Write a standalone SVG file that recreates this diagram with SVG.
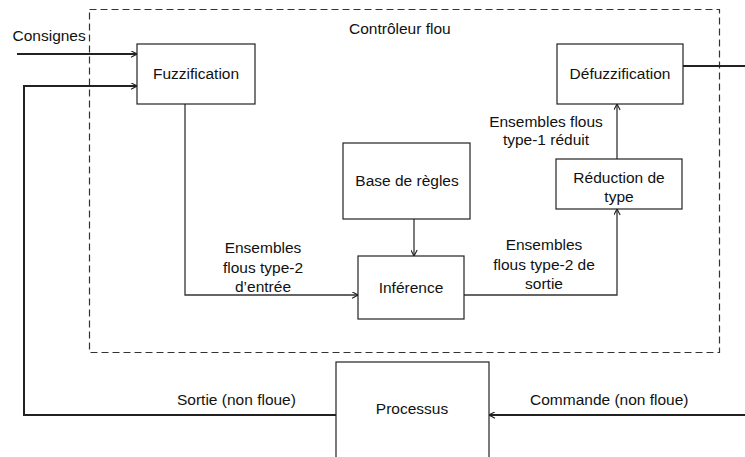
<svg xmlns="http://www.w3.org/2000/svg" width="745" height="457" viewBox="0 0 745 457">
<style>
.box{fill:#fff;stroke:#222;stroke-width:1.2}
.t{font-family:"Liberation Sans",Arial,sans-serif;font-size:15.5px;fill:#111}
.m{text-anchor:middle}
.thick{fill:none;stroke:#222;stroke-width:2}
.thin{fill:none;stroke:#333;stroke-width:1.3}
.dash{fill:none;stroke:#333;stroke-width:1.2;stroke-dasharray:7,4}
</style>
<defs>
<marker id="ah" viewBox="0 0 10 10" refX="9.5" refY="5" markerWidth="7" markerHeight="7" markerUnits="userSpaceOnUse" orient="auto">
<path d="M1,0.5 L9.5,5 L1,9.5" fill="none" stroke="#222" stroke-width="1.6"/>
</marker>
</defs>
<rect width="745" height="457" fill="#fff"/>
<g id="controleur">
<rect class="dash" x="89.5" y="9.5" width="630" height="343"/>
<text class="t" x="349" y="34">Contrôleur flou</text>
</g>
<g id="connectors">
<line class="thick" x1="17" y1="54" x2="137" y2="54" marker-end="url(#ah)"/>
<polyline class="thick" points="336,415 24,415 24,86 137,86" marker-end="url(#ah)"/>
<polyline class="thin" points="185,104 185,295 358,295" marker-end="url(#ah)"/>
<line class="thin" x1="414" y1="219" x2="414" y2="256" marker-end="url(#ah)"/>
<polyline class="thin" points="464,295 617,295 617,209" marker-end="url(#ah)"/>
<line class="thin" x1="617" y1="159" x2="617" y2="104" marker-end="url(#ah)"/>
<line class="thick" x1="683" y1="66" x2="745" y2="66"/>
<line class="thick" x1="745" y1="415" x2="489" y2="415" marker-end="url(#ah)"/>
<text class="t" x="12.5" y="41">Consignes</text>
<text class="t m" x="263" y="253">Ensembles</text>
<text class="t m" x="263" y="273">flous type-2</text>
<text class="t m" x="263" y="292">d’entrée</text>
<text class="t m" x="544" y="250">Ensembles</text>
<text class="t m" x="544" y="270">flous type-2 de</text>
<text class="t m" x="544" y="289">sortie</text>
<text class="t m" x="546" y="127">Ensembles flous</text>
<text class="t m" x="546" y="145">type-1 réduit</text>
<text class="t" x="177" y="405">Sortie (non floue)</text>
<text class="t" x="530" y="405">Commande (non floue)</text>
</g>
<g id="fuzzification">
<rect class="box" x="137" y="44" width="118" height="60"/>
<text class="t m" x="196" y="79">Fuzzification</text>
</g>
<g id="defuzzification">
<rect class="box" x="557" y="44" width="126" height="60"/>
<text class="t m" x="620" y="79">Défuzzification</text>
</g>
<g id="base-regles">
<rect class="box" x="343" y="143" width="127" height="76"/>
<text class="t m" x="407" y="186">Base de règles</text>
</g>
<g id="reduction">
<rect class="box" x="556" y="159" width="126" height="50"/>
<text class="t m" x="619" y="183">Réduction de</text>
<text class="t m" x="619" y="202">type</text>
</g>
<g id="inference">
<rect class="box" x="358" y="256" width="106" height="63"/>
<text class="t m" x="411" y="293">Inférence</text>
</g>
<g id="processus">
<rect class="box" x="336" y="362" width="153" height="110"/>
<text class="t m" x="412" y="414">Processus</text>
</g>
</svg>
